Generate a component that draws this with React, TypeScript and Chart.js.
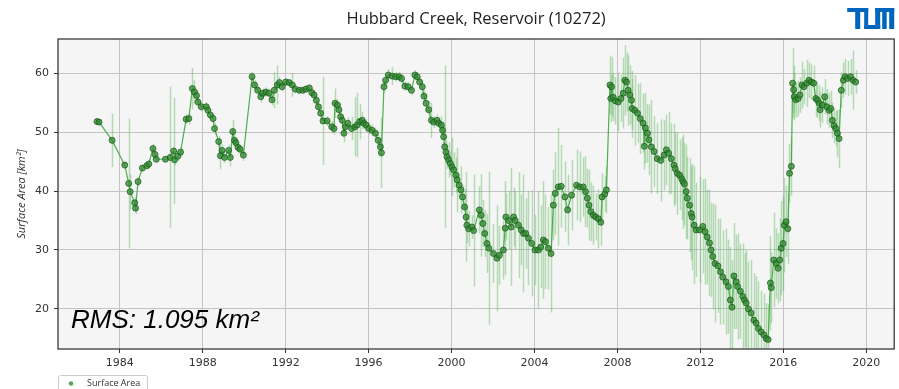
import React, { useEffect, useRef } from 'react';
import { Chart, registerables } from 'chart.js';

Chart.register(...registerables);

// Observation epochs (decimal years)
const dates: number[] = [
  1982.90, 1983.00, 1983.63, 1984.24, 1984.43, 1984.50, 1984.72, 1984.76, 1984.88, 1985.09,
  1985.30, 1985.40, 1985.60, 1985.70, 1985.76, 1986.20, 1986.43, 1986.60, 1986.64, 1986.80,
  1986.93, 1987.20, 1987.33, 1987.50, 1987.60, 1987.70, 1987.77, 1987.93, 1988.17, 1988.25,
  1988.37, 1988.50, 1988.57, 1988.77, 1988.85, 1988.93, 1989.05, 1989.25, 1989.33, 1989.45,
  1989.53, 1989.60, 1989.70, 1989.80, 1989.96,
  1990.38, 1990.50, 1990.65, 1990.80, 1990.90, 1991.05, 1991.20, 1991.34, 1991.45, 1991.60,
  1991.70, 1991.83, 1992.00, 1992.17, 1992.32, 1992.46, 1992.66, 1992.82, 1992.98, 1993.14,
  1993.26, 1993.37, 1993.48, 1993.58, 1993.69, 1993.80, 1994.00, 1994.22, 1994.33, 1994.38,
  1994.50, 1994.57, 1994.65, 1994.73, 1994.81, 1994.88, 1995.00, 1995.18, 1995.34, 1995.45,
  1995.57, 1995.69, 1995.77, 1995.88, 1996.00, 1996.17, 1996.33, 1996.46, 1996.57, 1996.62,
  1996.74, 1996.82, 1996.95, 1997.14, 1997.30, 1997.46, 1997.59, 1997.75, 1997.91, 1998.07,
  1998.23, 1998.34, 1998.46, 1998.59, 1998.67, 1998.77, 1998.90, 1999.03, 1999.14, 1999.30,
  1999.38, 1999.51, 1999.57, 1999.62, 1999.67, 1999.73, 1999.78, 1999.86, 1999.94, 2000.02,
  2000.10, 2000.21, 2000.27, 2000.37, 2000.45, 2000.53, 2000.63, 2000.70, 2000.74, 2000.82,
  2000.98, 2001.07, 2001.34, 2001.43, 2001.51, 2001.60, 2001.71, 2001.80, 2002.02, 2002.19,
  2002.31, 2002.50, 2002.59, 2002.62, 2002.75, 2002.88, 2002.99, 2003.07, 2003.23, 2003.36,
  2003.47, 2003.58, 2003.71, 2003.87, 2004.03, 2004.19, 2004.30, 2004.43, 2004.53, 2004.67,
  2004.80, 2004.91, 2005.00, 2005.15, 2005.29, 2005.47, 2005.60, 2005.79, 2006.03, 2006.19,
  2006.35, 2006.46, 2006.55, 2006.63, 2006.72, 2006.84, 2006.95, 2007.08, 2007.20, 2007.26,
  2007.39, 2007.47,
  2007.64, 2007.68, 2007.72, 2007.80, 2007.90, 2008.04, 2008.17, 2008.28, 2008.36, 2008.44,
  2008.52, 2008.60, 2008.68, 2008.71, 2008.84, 2008.97, 2009.10, 2009.24, 2009.30, 2009.35,
  2009.45, 2009.52, 2009.64, 2009.77, 2009.92, 2010.09, 2010.25, 2010.36, 2010.47, 2010.60,
  2010.73, 2010.79, 2010.89, 2011.00, 2011.10, 2011.16, 2011.23, 2011.32, 2011.37, 2011.48,
  2011.56, 2011.60, 2011.70, 2011.80, 2011.96, 2012.12, 2012.23, 2012.33, 2012.44, 2012.52,
  2012.60, 2012.71, 2012.85, 2012.97, 2013.08, 2013.24, 2013.35, 2013.45, 2013.53, 2013.62,
  2013.73, 2013.80, 2013.93, 2014.05, 2014.13, 2014.21, 2014.32, 2014.45, 2014.58, 2014.69,
  2014.80, 2014.93, 2015.06, 2015.17, 2015.27,
  2015.38, 2015.42, 2015.54, 2015.66, 2015.75, 2015.83, 2015.90, 2015.99, 2016.05, 2016.13,
  2016.22, 2016.30, 2016.39, 2016.45, 2016.50, 2016.53, 2016.60, 2016.72, 2016.80, 2016.90,
  2017.00, 2017.13, 2017.24, 2017.36, 2017.46, 2017.57, 2017.65, 2017.73, 2017.78, 2017.89,
  2018.00, 2018.10, 2018.21, 2018.29, 2018.37, 2018.45, 2018.53, 2018.61, 2018.69, 2018.80,
  2018.90, 2018.98, 2019.10, 2019.25, 2019.37, 2019.49,
];

// Surface area estimates [km²]
const areas: number[] = [
  51.8, 51.7, 48.6, 44.4, 41.3, 39.9, 38.0, 37.1, 41.6, 43.9,
  44.3, 44.6, 47.2, 46.2, 45.4, 45.4, 45.7, 46.8, 45.3, 45.9,
  46.6, 52.2, 52.3, 57.4, 56.8, 56.2, 55.1, 54.3, 54.3, 53.7,
  52.9, 52.3, 50.6, 48.4, 46.0, 46.9, 45.7, 46.9, 45.7, 50.1,
  48.6, 48.2, 47.4, 47.1, 46.1,
  59.4, 58.0, 57.1, 56.0, 56.6, 56.8, 56.6, 55.5, 57.1, 58.0,
  58.4, 57.7, 58.5, 58.4, 58.0, 57.3, 57.1, 57.1, 57.3, 57.5,
  56.7, 56.3, 55.4, 54.3, 53.2, 51.9, 51.9, 50.9, 50.6, 54.9,
  54.6, 53.8, 52.6, 52.0, 49.8, 50.9, 51.5, 50.6, 50.9, 51.2,
  51.8, 52.0, 51.5, 51.2, 50.6, 50.3, 49.8, 48.6, 47.5, 46.5,
  57.7, 58.8, 59.7, 59.5, 59.4, 59.4, 59.1, 57.8, 57.7, 57.1,
  59.7, 59.4, 58.5, 57.7, 56.1, 54.9, 53.8, 52.0, 51.7, 52.0,
  51.5, 51.2, 50.3, 49.2, 47.5, 46.6, 45.8, 45.3, 44.7, 44.1,
  43.6, 42.7, 41.9, 41.0, 40.2, 39.0, 37.3, 35.6, 34.2, 33.6,
  33.9, 33.3, 36.8, 35.9, 34.5, 32.8, 31.1, 30.3, 29.4, 28.6,
  29.1, 30.0, 33.7, 35.6, 35.0, 33.9, 35.6, 35.0, 34.2, 33.4,
  32.8, 32.8, 32.0, 31.1, 30.0, 30.0, 30.5, 31.7, 31.4, 30.3,
  29.4, 37.6, 39.6, 40.7, 40.8, 39.0, 36.8, 39.3, 41.0, 40.7,
  40.7, 39.9, 38.8, 37.6, 36.5, 35.9, 35.6, 35.3, 34.7, 39.0,
  39.5, 40.2,
  58.0, 55.7, 57.7, 55.9, 55.3, 55.1, 55.7, 56.6, 58.8, 58.5,
  57.1, 56.3, 55.4, 54.0, 53.7, 53.2, 52.3, 51.5, 47.6, 50.7,
  49.8, 48.7, 47.5, 46.7, 45.5, 45.2, 46.1, 47.0, 46.4, 45.5,
  44.4, 43.8, 43.0, 42.7, 42.1, 41.6, 41.2, 39.9, 38.8, 37.6,
  36.2, 35.6, 34.2, 33.4, 33.4, 34.0, 33.1, 32.2, 31.2, 30.0,
  28.9, 27.7, 27.3, 26.3, 25.4, 24.6, 23.8, 21.5, 20.3, 25.6,
  24.6, 23.8, 23.0, 22.1, 21.5, 21.0, 20.0, 19.3, 18.1, 17.6,
  16.7, 16.1, 15.6, 15.0, 14.8,
  24.4, 23.6, 28.3, 27.7, 26.9, 28.3, 30.3, 31.1, 34.2, 34.8,
  33.6, 43.0, 44.2, 58.3, 57.2, 56.0, 55.5, 55.7, 56.3, 58.0,
  57.7, 58.3, 58.8, 58.5, 58.3, 55.7, 55.4, 54.9, 53.8, 54.6,
  56.0, 54.3, 53.7, 54.0, 52.0, 51.1, 50.6, 49.8, 48.9, 57.1,
  58.8, 59.4, 59.1, 59.4, 58.8, 58.5,
];

// Half-width of the uncertainty bar at each epoch [km²]
const errors: number[] = [
  0.3, 0.3, 4.5, 0.6, 11, 3, 1, 1, 0.8, 0.6,
  0.6, 0.8, 0.8, 0.6, 0.6, 0.5, 12, 9, 1, 0.8,
  0.8, 0.8, 1, 3.5, 2, 1, 1, 0.8, 0.8, 0.8,
  0.8, 0.8, 1, 1, 2.3, 1, 1, 1, 1.5, 2,
  1, 0.8, 0.8, 0.8, 1,
  0.8, 0.8, 0.8, 1, 0.8, 0.8, 0.8, 1, 3, 3.3,
  1, 0.8, 0.6, 0.6, 2, 0.8, 0.6, 0.6, 0.6, 0.6,
  0.8, 0.8, 0.8, 1, 1, 7.5, 0.8, 1, 1, 2.5,
  1, 1, 1, 1, 1.5, 1, 1, 2, 5, 5.5,
  3, 1.5, 1, 1, 1, 1, 1, 1, 1.5, 6,
  1, 1, 1, 1.5, 0.8, 0.8, 0.8, 0.8, 0.8, 0.8,
  0.8, 0.8, 1, 1, 1, 1.5, 1.5, 3, 1, 1,
  1, 1.5, 1.5, 2, 13.8, 2, 2, 3, 2, 5,
  3, 3, 5.5, 2, 4, 2, 3, 7.6, 3, 3,
  2, 9.5, 4, 7, 4, 4, 5, 13, 5, 9,
  5, 5, 8, 4, 5, 10, 5, 5, 9, 6,
  10, 6, 8, 9, 6, 10, 7, 10, 8, 7,
  10, 6, 7, 10, 7, 6, 6, 6, 6, 6,
  5, 6, 5, 6, 5, 5, 4, 5, 4, 4,
  3, 4,
  5, 4, 5, 4, 4, 5, 4, 6, 6, 5,
  6, 5, 5, 5, 6, 5, 6, 5, 4, 6,
  5, 6, 8, 6, 6, 7, 6, 6, 7, 6,
  7, 6, 7, 6, 7, 8, 7, 8, 7, 8,
  8, 9, 10, 8, 9, 8, 9, 8, 9, 8,
  9, 10, 8, 9, 8, 9, 8, 9, 8, 9,
  8, 9, 8, 9, 8, 9, 8, 9, 8, 8,
  8, 7, 7, 6, 6,
  8, 6, 8, 6, 6, 7, 8, 8, 8, 6,
  6, 5, 5, 6, 4, 4, 3, 3, 3, 4,
  3, 4, 3, 3, 3, 3, 3, 3, 3, 3,
  3, 3, 3, 3, 3, 3, 3, 4, 5, 3,
  3, 3, 3, 3, 5, 2,
];

const xTicks: number[] = [1984, 1988, 1992, 1996, 2000, 2004, 2008, 2012, 2016, 2020];
const yTicks: number[] = [20, 30, 40, 50, 60];

const TITLE = 'Hubbard Creek, Reservoir (10272)';
const Y_LABEL = 'Surface Area [km²]';
const RMS_LABEL = 'RMS: 1.095 km²';
const SERIES_LABEL = 'Surface Area';

const TUM_BLUE = '#0065BD';
const TICK_FONT = { family: '"DejaVu Sans", sans-serif', size: 11 };

// Frame, error bars, annotations, legend and logo drawn around the line series
const decorations = {
  id: 'decorations',
  beforeDraw(chart: any) {
    const { ctx, chartArea: a, width, height } = chart;
    ctx.save();
    ctx.fillStyle = '#ffffff';
    ctx.fillRect(0, 0, width, height);
    ctx.fillStyle = '#f5f5f5';
    ctx.fillRect(a.left, a.top, a.right - a.left, a.bottom - a.top);
    ctx.restore();
  },
  beforeDatasetsDraw(chart: any) {
    const { ctx, chartArea: a, scales } = chart;
    const xs = scales.x;
    const ys = scales.y;
    ctx.save();
    ctx.beginPath();
    ctx.rect(a.left, a.top, a.right - a.left, a.bottom - a.top);
    ctx.clip();
    ctx.strokeStyle = 'rgba(90, 180, 90, 0.42)';
    ctx.lineWidth = 1.5;
    for (let i = 0; i < dates.length; i++) {
      const px = Math.round(xs.getPixelForValue(dates[i])) + 0.5;
      ctx.beginPath();
      ctx.moveTo(px, ys.getPixelForValue(areas[i] - errors[i]));
      ctx.lineTo(px, ys.getPixelForValue(areas[i] + errors[i]));
      ctx.stroke();
    }
    ctx.restore();
  },
  afterDatasetsDraw(chart: any) {
    const { ctx, chartArea: a } = chart;
    ctx.save();

    // plot frame
    ctx.strokeStyle = '#3a3a3a';
    ctx.lineWidth = 1.3;
    ctx.strokeRect(a.left, a.top, a.right - a.left, a.bottom - a.top);

    // RMS annotation
    ctx.fillStyle = '#000000';
    ctx.font = 'italic 26px "Liberation Sans", Arial, sans-serif';
    ctx.textAlign = 'left';
    ctx.textBaseline = 'alphabetic';
    ctx.fillText(RMS_LABEL, 71, 328);

    // title
    ctx.fillStyle = '#222222';
    ctx.font = '16.5px "Open Sans", sans-serif';
    ctx.textAlign = 'center';
    ctx.fillText(TITLE, (a.left + a.right) / 2, 24);

    // y-axis title
    ctx.save();
    ctx.translate(22, (a.top + a.bottom) / 2);
    ctx.rotate(-Math.PI / 2);
    ctx.font = 'italic 11px "Open Sans", sans-serif';
    ctx.fillStyle = '#333333';
    ctx.textBaseline = 'middle';
    ctx.fillText(Y_LABEL, 0, 0);
    ctx.restore();

    // legend
    ctx.fillStyle = '#ffffff';
    ctx.strokeStyle = '#cccccc';
    ctx.lineWidth = 1;
    ctx.beginPath();
    (ctx as any).roundRect(a.left + 0.5, 375.5, 89, 22, 2);
    ctx.fill();
    ctx.stroke();
    ctx.fillStyle = 'rgba(60, 150, 60, 0.85)';
    ctx.beginPath();
    ctx.arc(71, 383.5, 2.3, 0, Math.PI * 2);
    ctx.fill();
    ctx.fillStyle = '#333333';
    ctx.font = '9px "Open Sans", sans-serif';
    ctx.textAlign = 'left';
    ctx.textBaseline = 'middle';
    ctx.fillText(SERIES_LABEL, 87, 383.5);

    // TUM logo
    const lx = a.right - 47;
    const ly = 8;
    ctx.fillStyle = TUM_BLUE;
    const bars: [number, number, number, number][] = [
      [0, 0, 21, 4],
      [8, 0, 5, 21],
      [17, 0, 4, 21],
      [17, 17, 16, 4],
      [28, 0, 5, 21],
      [28, 0, 19, 4],
      [35, 0, 4.5, 21],
      [42, 0, 5, 21],
    ];
    for (const [bx, by, bw, bh] of bars) ctx.fillRect(lx + bx, ly + by, bw, bh);

    ctx.restore();
  },
};

export default function App() {
  const canvasRef = useRef<HTMLCanvasElement | null>(null);

  useEffect(() => {
    if (!canvasRef.current) return;
    const points = dates.map((d, i) => ({ x: d, y: areas[i] }));
    const chart = new Chart(canvasRef.current, {
      type: 'line',
      data: {
        datasets: [
          {
            label: SERIES_LABEL,
            data: points,
            borderColor: 'rgba(70, 170, 70, 0.95)',
            borderWidth: 1.2,
            tension: 0,
            pointRadius: 3,
            pointBackgroundColor: 'rgba(50, 140, 50, 0.75)',
            pointBorderColor: 'rgba(25, 85, 25, 0.9)',
            pointBorderWidth: 0.8,
            clip: 4,
          },
        ],
      },
      plugins: [decorations],
      options: {
        responsive: false,
        animation: false,
        events: [],
        layout: { padding: { top: 39, right: 3, bottom: 0, left: 0 } },
        plugins: {
          legend: { display: false },
          title: { display: false },
          tooltip: { enabled: false },
        },
        scales: {
          x: {
            type: 'linear',
            min: 1981.02,
            max: 2021.35,
            afterBuildTicks: (s: any) => {
              s.ticks = xTicks.map((v) => ({ value: v }));
            },
            afterFit: (s: any) => {
              s.height = 40;
            },
            ticks: {
              callback: (v: any) => String(v),
              font: TICK_FONT,
              color: '#333333',
              padding: 4,
              maxRotation: 0,
              autoSkip: false,
            },
            grid: { color: '#c4c4c4', lineWidth: 1, tickColor: '#333333', tickLength: 4 },
            border: { display: false },
          },
          y: {
            type: 'linear',
            min: 13.2,
            max: 65.8,
            afterBuildTicks: (s: any) => {
              s.ticks = yTicks.map((v) => ({ value: v }));
            },
            afterFit: (s: any) => {
              s.width = 58;
            },
            ticks: {
              callback: (v: any) => String(v),
              font: TICK_FONT,
              color: '#333333',
              padding: 5,
            },
            grid: { color: '#c4c4c4', lineWidth: 1, tickColor: '#333333', tickLength: 4 },
            border: { display: false },
          },
        },
      },
    });
    return () => chart.destroy();
  }, []);

  return (
    <div style={{ position: 'fixed', left: 0, top: 0, width: 899, height: 389, background: '#ffffff' }}>
      <canvas ref={canvasRef} width={899} height={389} style={{ display: 'block' }} />
    </div>
  );
}
